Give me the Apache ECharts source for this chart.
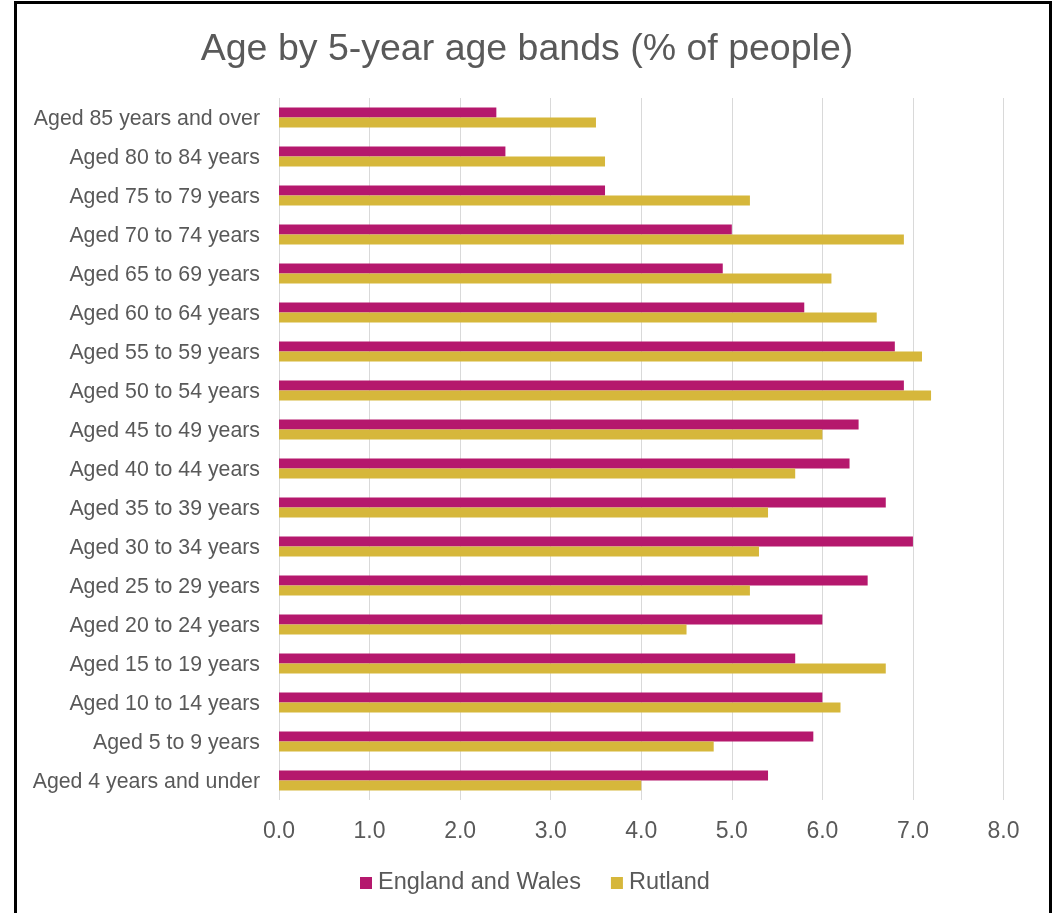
<!DOCTYPE html>
<html>
<head>
<meta charset="utf-8">
<script src="https://cdn.jsdelivr.net/npm/echarts@6/dist/echarts.min.js"></script>
<style>
  html, body { margin: 0; padding: 0; background: #fff; overflow: hidden; }
  #chart { position: absolute; left: 0; top: 0; width: 1054px; height: 913px; }
  #frame {
    position: absolute; left: 14px; top: 1px; width: 1038px; height: 1000px;
    box-sizing: border-box; border: 3px solid #000; border-bottom: none;
    pointer-events: none;
  }
</style>
</head>
<body>
<div id="chart"></div>
<div id="frame"></div>
<script>
// Age bands, listed top to bottom as drawn
const categories = [
  'Aged 85 years and over', 'Aged 80 to 84 years', 'Aged 75 to 79 years',
  'Aged 70 to 74 years', 'Aged 65 to 69 years', 'Aged 60 to 64 years',
  'Aged 55 to 59 years', 'Aged 50 to 54 years', 'Aged 45 to 49 years',
  'Aged 40 to 44 years', 'Aged 35 to 39 years', 'Aged 30 to 34 years',
  'Aged 25 to 29 years', 'Aged 20 to 24 years', 'Aged 15 to 19 years',
  'Aged 10 to 14 years', 'Aged 5 to 9 years', 'Aged 4 years and under'
];

// Share of people in each band (%)
const englandWales = [2.4, 2.5, 3.6, 5.0, 4.9, 5.8, 6.8, 6.9, 6.4, 6.3, 6.7, 7.0, 6.5, 6.0, 5.7, 6.0, 5.9, 5.4];
const rutland      = [3.5, 3.6, 5.2, 6.9, 6.1, 6.6, 7.1, 7.2, 6.0, 5.7, 5.4, 5.3, 5.2, 4.5, 6.7, 6.2, 4.8, 4.0];

const seriesNames = ['England and Wales', 'Rutland'];
const seriesColors = ['#B5186D', '#D6B73B'];

const textColor = '#595959';
const fontFamily = '"Liberation Sans", Arial, sans-serif';

const chart = echarts.init(document.getElementById('chart'), null, { renderer: 'canvas' });

chart.setOption({
  animation: false,
  backgroundColor: 'transparent',
  textStyle: { fontFamily: fontFamily, color: textColor },
  title: {
    text: 'Age by 5-year age bands (% of people)',
    left: 'center',
    top: 26,
    textStyle: { fontFamily: fontFamily, fontSize: 37.5, fontWeight: 'normal', color: textColor }
  },
  legend: {
    data: seriesNames,
    left: 360,
    top: 871,
    padding: 0,
    icon: 'rect',
    itemWidth: 12,
    itemHeight: 12,
    itemGap: 30,
    textStyle: { fontFamily: fontFamily, fontSize: 23.5, color: textColor, padding: [0, 0, 0, 1] }
  },
  grid: { left: 279, right: 50.5, top: 98, bottom: 113, containLabel: false },
  xAxis: {
    type: 'value',
    min: 0,
    max: 8,
    interval: 1,
    axisLine: { show: false },
    axisTick: { show: false },
    splitLine: { show: true, lineStyle: { color: '#D9D9D9', width: 1 } },
    axisLabel: {
      fontFamily: fontFamily, fontSize: 23, color: textColor, margin: 20,
      formatter: v => v.toFixed(1)
    }
  },
  yAxis: {
    type: 'category',
    data: categories,
    inverse: true,
    axisLine: { show: false },
    axisTick: { show: false },
    splitLine: { show: false },
    axisLabel: {
      margin: 19,
      formatter: '{l|{value}}',
      rich: {
        l: { fontFamily: fontFamily, fontSize: 21.3, color: textColor, padding: [4, 0, 0, 0] }
      }
    }
  },
  series: [
    {
      name: seriesNames[0],
      type: 'bar',
      data: englandWales,
      barWidth: 10,
      barGap: '0%',
      itemStyle: { color: seriesColors[0] }
    },
    {
      name: seriesNames[1],
      type: 'bar',
      data: rutland,
      barWidth: 10,
      barGap: '0%',
      itemStyle: { color: seriesColors[1] }
    }
  ]
});
</script>
</body>
</html>
